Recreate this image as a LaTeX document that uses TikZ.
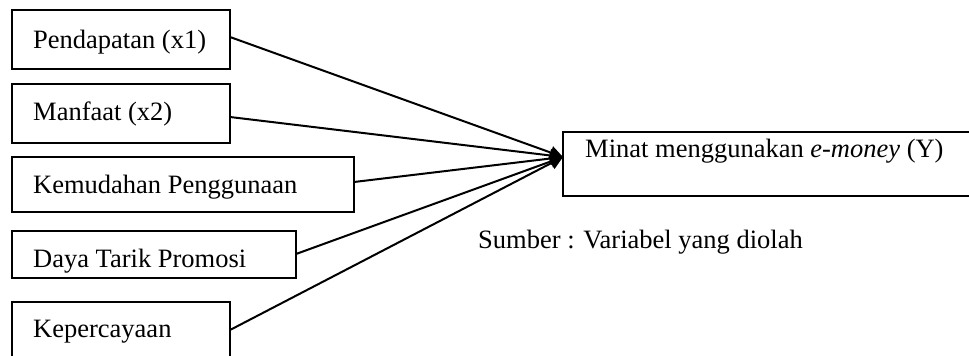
\documentclass[tikz,border=0pt]{standalone}
\usepackage{fontspec}
\setmainfont{Liberation Serif}
\usetikzlibrary{arrows.meta}
\begin{document}
\begin{tikzpicture}[x=1pt,y=-1pt,
  box/.style={draw=black,line width=2pt},
  lbl/.style={anchor=base west,inner sep=0pt,font=\fontsize{26.5}{30}\selectfont},
  link/.style={line width=2pt,-{Triangle[length=13pt,width=13pt]}}]
\useasboundingbox (0,0) rectangle (969,356);
% variable boxes
\draw[box] (12,10) rectangle (230,69);
\draw[box] (12,84) rectangle (230,143);
\draw[box] (12,157) rectangle (354,212);
\draw[box] (12,231) rectangle (296,278);
\draw[box] (12,302) rectangle (230,360);
\draw[box] (563,132) rectangle (975,196);
% anchors on the right edges of the boxes
\coordinate (b1) at (230,37);
\coordinate (b2) at (230,117);
\coordinate (b3) at (354,182);
\coordinate (b4) at (296,254);
\coordinate (b5) at (230,330);
\coordinate (tip) at (563,157);
% labels
\node[lbl] (t1) at (33,48) {Pendapatan (x1)};
\node[lbl] (t2) at (33,120) {Manfaat (x2)};
\node[lbl] (t3) at (33,193) {Kemudahan Penggunaan};
\node[lbl] (t4) at (33,267) {Daya Tarik Promosi};
\node[lbl] (t5) at (33,337) {Kepercayaan};
\node[lbl] (ty) at (585,157) {Minat menggunakan \textit{e-money} (Y)};
\node[lbl] (src) at (478,248) {Sumber : Variabel yang diolah};
% connectors
\foreach \s in {b1,b2,b3,b4,b5}
  \draw[link] (\s) -- (tip);
\end{tikzpicture}
\end{document}
